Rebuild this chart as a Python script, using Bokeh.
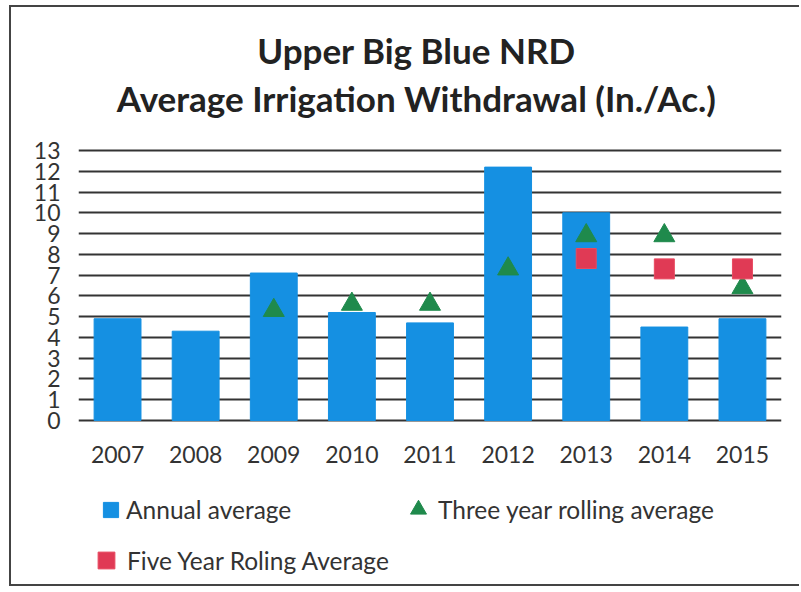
from bokeh.plotting import figure
from bokeh.models import (Range1d, FactorRange, FixedTicker, Legend, LegendItem, Label)
from bokeh.embed import file_html
from bokeh.resources import INLINE

years = ["2007", "2008", "2009", "2010", "2011", "2012", "2013", "2014", "2015"]
annual = [4.9, 4.3, 7.1, 5.2, 4.7, 12.2, 10.0, 4.5, 4.9]
three_years = ["2009", "2010", "2011", "2012", "2013", "2014", "2015"]
three_avg = [5.3, 5.6, 5.6, 7.3, 8.9, 8.9, 6.4]
five_years = ["2013", "2014", "2015"]
five_avg = [7.8, 7.3, 7.3]
y_ticks = list(range(0, 14))

FONT = "Lato"
TXT = "#333333"

p = figure(width=790, height=581, x_range=FactorRange(*years, range_padding=0),
           y_range=Range1d(-8.089, 19.885), output_backend="svg", toolbar_location=None,
           min_border_left=67, min_border_right=20, min_border_top=0,
           min_border_bottom=0)
p.styles = {"border-left": "2px solid #444", "border-top": "2px solid #444",
            "border-bottom": "2px solid #444", "margin-left": "9px",
            "margin-top": "5px"}
p.outline_line_color = None

bars = p.vbar(x=years, top=annual, width=0.6, color="#1590e2")
tri = p.scatter(x=three_years, y=three_avg, marker="triangle", size=21,
                color="#1f8a4c")
sq = p.scatter(x=five_years, y=five_avg, marker="square", size=20,
               fill_color="#e03a55", line_color="#e84a60")

p.xgrid.grid_line_color = None
p.ygrid.ticker = FixedTicker(ticks=y_ticks)
p.ygrid.grid_line_color = "#333333"
p.ygrid.grid_line_width = 2

p.yaxis.ticker = FixedTicker(ticks=y_ticks)
for ax in (p.xaxis[0], p.yaxis[0]):
    ax.axis_line_color = None
    ax.major_tick_line_color = None
    ax.minor_tick_line_color = None
    ax.major_tick_out = 0
    ax.major_tick_in = 0
    ax.major_label_text_font = FONT
    ax.major_label_text_font_size = "23px"
    ax.major_label_text_color = TXT
p.yaxis.major_label_standoff = 18
p.xaxis.major_label_standoff = -143

for txt, ty in (("Upper Big Blue NRD", 539),
                ("Average Irrigation Withdrawal (In./Ac.)", 491)):
    p.add_layout(Label(x=338, y=ty, x_units="screen", y_units="screen", text=txt,
                       text_align="center", text_baseline="middle",
                       text_font=FONT, text_font_size="35px",
                       text_font_style="bold", text_color="#222222"))

def mk_legend(item, loc, gw, gh, standoff):
    lg = Legend(items=[item], location=loc, orientation="horizontal",
                glyph_width=gw, glyph_height=gh, label_standoff=standoff,
                padding=0, margin=0, border_line_color=None,
                background_fill_alpha=0, label_text_font=FONT,
                label_text_font_size="24.5px", label_text_color=TXT)
    p.add_layout(lg, "center")

mk_legend(LegendItem(label="Annual average", renderers=[bars]), (23, 64), 19, 19, 6)
mk_legend(LegendItem(label="Three year rolling average", renderers=[tri]), (320, 59), 40, 40, 0)
mk_legend(LegendItem(label="Five Year Roling Average", renderers=[sq]), (7, 7), 42, 42, 0)

open("out.html", "w").write(file_html(p, INLINE))
